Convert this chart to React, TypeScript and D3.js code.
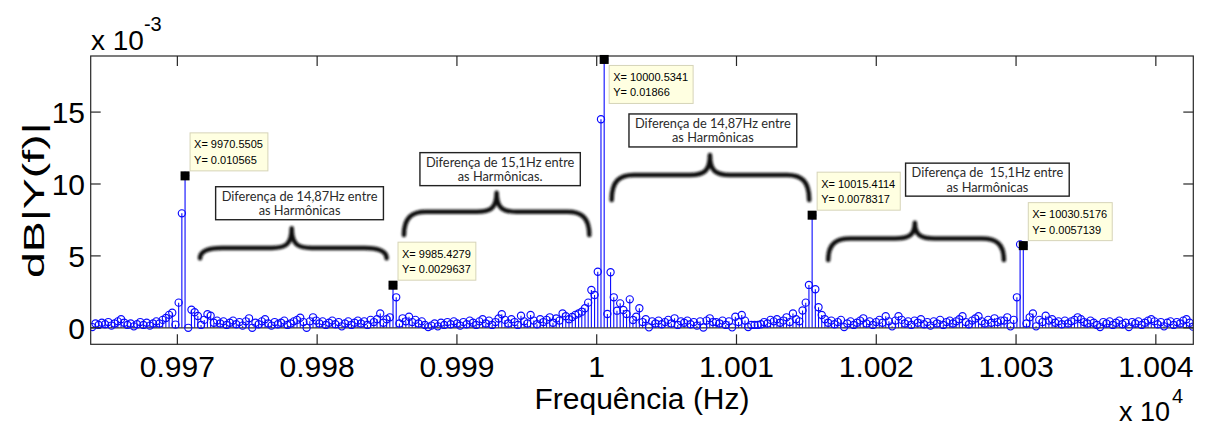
import React, { useEffect, useRef } from "react";
import * as d3 from "d3";

const WIDTH = 1206;
const HEIGHT = 429;

// FFT bin grid (Hz)
const BIN_HZ = 0.228882;
const FIRST_BIN_HZ = 9963.9129;

// |Y(f)| per bin, in units of 1e-3
const magnitudeMilli: number[] = [
  // 9963.9 .. 9970.3 Hz
  0.05, 0.3, 0.2, 0.35, 0.25, 0.4, 0.15, 0.3, 0.45, 0.6, 0.35, 0.2, 0.3, 0.1, 0.25, 0.4, 0.2, 0.35, 0.15, 0.3, 0.45,
  0.3, 0.55, 0.68, 0.9, 1.05, 0.22, 1.75, 7.96,
  // first harmonic
  10.565,
  0, 1.26, 1.08, 0.82, 0.2, 0.55, 0.94, 0.84, 0.35, 0.5,
  0.3, 0.45, 0.2, 0.35, 0.5, 0.25, 0.4, 0.15, 0.45, 0.66,
  0, 0.35, 0.25, 0.45, 0.6, 0.3, 0.15, 0.4, 0.25, 0.35,
  0.5, 0.2, 0.3, 0.45, 0.55, 0.7, 0.4, 0, 0.45, 0.73,
  0.5, 0.3, 0.45, 0.2, 0.35, 0.5, 0.25, 0.4, 0.1, 0.3,
  0.45, 0.2, 0.35, 0.5, 0.3, 0.45, 0.2, 0.55, 0.4, 0.6,
  1.0, 0.35, 0.6, 0.73,
  // second harmonic
  2.9637,
  2.12, 0.3, 0.66, 0.45, 0.77,
  0.4, 0.55, 0.3, 0.45, 0.2, 0.05, 0.15, 0.3, 0.1, 0.35,
  0.2, 0.4, 0.25, 0.45, 0.3, 0.15, 0.4, 0.25, 0.5, 0.35,
  0.2, 0.45, 0.6, 0.3, 0.5, 0.2, 0.4, 0.65, 0.94, 0.55,
  0.3, 0.6, 0.4, 0.2, 0.84, 0.45, 0.3, 0.89, 0.5, 0.25,
  0.6, 0.4, 0.55, 0.73, 0.35, 0.65, 0.5, 1.0, 0.8, 0.6,
  0.75, 0.9, 1.0, 1.12, 1.36, 1.75, 2.63, 2.28, 3.9, 14.5,
  // fundamental
  18.66,
  0.96, 3.86, 2.12, 1.19, 1.7, 1.24, 0.96, 1.98, 0.54,
  0.77, 1.36, 0.4, 0.6, 0.03, 0.45, 0.3, 0.5, 0.25, 0.4,
  0.55, 0.3, 0.66, 0.2, 0.45, 0.35, 0.5, 0.25, 0.4, 0.15,
  0.45, 0.02, 0.5, 0.66, 0.4, 0.4, 0.3, 0.5, 0.2, 0.45,
  0.03, 0.77, 0.4, 0.89, 0.5, 0.05, 0.2, 0.2, 0.2, 0.25,
  0.4, 0.3, 0.55, 0.45, 0.6, 0.35, 0.5, 0.73, 0.4, 1.0,
  0.6, 0.45, 1.2, 1.75, 2.98,
  // fourth harmonic
  7.8317,
  2.68, 1.43, 0.89, 0.6,
  0.35, 0.5, 0.25, 0.4, 0.55, 0.05, 0.3, 0.45, 0.2, 0.35,
  0.5, 0.66, 0.3, 0.45, 0.2, 0.4, 0.55, 0.35, 0.8, 0.45,
  0.1, 0.5, 0.8, 0.55, 0.3, 0.45, 0.2, 0.5, 0.35, 0.6,
  0.25, 0.4, 0.15, 0.45, 0.3, 0.55, 0.2, 0.4, 0.5, 0.3,
  0.45, 0.6, 0.8, 0.4, 0.25, 0.5, 0.65, 0.8, 0.45, 0.3,
  0.55, 0.35, 0.66, 0.4, 0.5, 0.5, 0.73, 0.1, 0.55, 2.12,
  5.8,
  // fifth harmonic
  5.7139,
  0.3, 0.73, 1.0, 0.1, 0.55, 0.4, 0.84, 0.5,
  0.6, 0.35, 0.45, 0.25, 0.5, 0.3, 0.45, 0.55, 0.73, 0.6,
  0.4, 0.3, 0.5, 0.35, 0.2, 0.05, 0.4, 0.3, 0.45, 0.2,
  0.35, 0.5, 0.25, 0.35, 0.05, 0.4, 0.3, 0.45, 0.2, 0.35,
  0.5, 0.6, 0.45, 0.25, 0.4, 0.1, 0.35, 0.45, 0.2, 0.4,
  0.3, 0.5, 0.6, 0.35, 0.08,
];

// Data tips on the harmonic peaks
const tipFreq = [9970.5505, 9985.4279, 10000.5341, 10015.4114, 10030.5176];
const tipMag = [0.010565, 0.0029637, 0.01866, 0.0078317, 0.0057139];
const tipLabelX = ["9970.5505", "9985.4279", "10000.5341", "10015.4114", "10030.5176"];
const tipLabelY = ["0.010565", "0.0029637", "0.01866", "0.0078317", "0.0057139"];

// Axis ticks
const xTicks = [9970, 9980, 9990, 10000, 10010, 10020, 10030, 10040];
const xTickLabels = ["0.997", "0.998", "0.999", "1", "1.001", "1.002", "1.003", "1.004"];
const yTicks = [0, 0.005, 0.01, 0.015];
const yTickLabels = ["0", "5", "10", "15"];

// Spacing notes between harmonics
const noteLine1 = [
  "Diferença de 14,87Hz entre",
  "Diferença de 15,1Hz entre",
  "Diferença de 14,87Hz entre",
  "Diferença de  15,1Hz entre",
];
const noteLine2 = ["as Harmônicas", "as Harmônicas.", "as Harmônicas", "as Harmônicas"];

// Note box anchors (centre Hz, top in 1e-3) and brace geometry (Hz / 1e-3)
const noteAnchor = [
  { cx: 9978.74, top: 9.81 },
  { cx: 9993.09, top: 12.18 },
  { cx: 10008.31, top: 14.87 },
  { cx: 10027.95, top: 11.45 },
];
const braceGeom = [
  { f0: 9971.62, fc: 9978.18, f1: 9984.97, end: 4.83, level: 5.55, cusp: 6.92 },
  { f0: 9986.21, fc: 9992.84, f1: 9999.47, end: 6.45, level: 8.07, cusp: 9.39 },
  { f0: 10001.07, fc: 10008.1, f1: 10015.2, end: 8.89, level: 10.63, cusp: 12.02 },
  { f0: 10016.56, fc: 10022.76, f1: 10029.13, end: 4.71, level: 6.21, cusp: 7.31 },
];

const BLUE = "#0a0aff";
const AXIS = "#262626";

function bracePath(x0: number, xc: number, x1: number, yEnd: number, yLev: number, yCusp: number) {
  const r = Math.min(22, (xc - x0) / 3, (x1 - xc) / 3);
  const h = yEnd - yLev;
  return [
    `M${x0},${yEnd}`,
    `C${x0},${yLev + h * 0.25} ${x0 + r * 0.35},${yLev} ${x0 + r},${yLev}`,
    `L${xc - r * 0.9},${yLev}`,
    `C${xc - r * 0.3},${yLev} ${xc},${yLev - 3} ${xc},${yCusp}`,
    `C${xc},${yLev - 3} ${xc + r * 0.3},${yLev} ${xc + r * 0.9},${yLev}`,
    `L${x1 - r},${yLev}`,
    `C${x1 - r * 0.35},${yLev} ${x1},${yLev + h * 0.25} ${x1},${yEnd}`,
  ].join(" ");
}

function draw(svgEl: SVGSVGElement) {
  const svg = d3.select(svgEl);
  svg.selectAll("*").remove();

  const left = 90.7, right = 1193.3, top = 56, bottom = 344.3;
  const x = d3.scaleLinear().domain([9963.8, 10042.68]).range([left, right]);
  const y = d3.scaleLinear().domain([-0.001147, 0.0189]).range([bottom, top]);
  const ym = (v: number) => y(v / 1000);

  const points = magnitudeMilli.map((m, i) => ({ f: FIRST_BIN_HZ + i * BIN_HZ, v: m / 1000 }));

  const defs = svg.append("defs");
  defs.append("clipPath").attr("id", "plotClip")
    .append("rect").attr("x", left).attr("y", top - 6).attr("width", right - left).attr("height", bottom - top + 6);
  defs.append("filter").attr("id", "soft").attr("x", "-10%").attr("y", "-30%").attr("width", "120%").attr("height", "160%")
    .append("feGaussianBlur").attr("stdDeviation", 0.8);

  svg.append("rect").attr("width", WIDTH).attr("height", HEIGHT).attr("fill", "#fff");

  const plot = svg.append("g").attr("clip-path", "url(#plotClip)");

  // stems
  plot.append("g").selectAll("line").data(points).join("line")
    .attr("x1", (d) => x(d.f)).attr("x2", (d) => x(d.f))
    .attr("y1", y(0)).attr("y2", (d) => y(d.v))
    .attr("stroke", BLUE).attr("stroke-width", 1.1);

  // stem baseline
  plot.append("line").attr("x1", left).attr("x2", right).attr("y1", y(0)).attr("y2", y(0))
    .attr("stroke", "#333").attr("stroke-width", 1.2);

  // stem markers
  plot.append("g").selectAll("circle").data(points).join("circle")
    .attr("cx", (d) => x(d.f)).attr("cy", (d) => y(d.v)).attr("r", 3.6)
    .attr("fill", "none").attr("stroke", BLUE).attr("stroke-width", 1.15);

  // axes box
  svg.append("rect").attr("x", left).attr("y", top).attr("width", right - left).attr("height", bottom - top)
    .attr("fill", "none").attr("stroke", AXIS).attr("stroke-width", 1.2);

  const tickLen = 10;
  const xt = svg.append("g").attr("stroke", AXIS).attr("stroke-width", 1.2);
  xTicks.forEach((t) => {
    xt.append("line").attr("x1", x(t)).attr("x2", x(t)).attr("y1", bottom).attr("y2", bottom - tickLen);
    xt.append("line").attr("x1", x(t)).attr("x2", x(t)).attr("y1", top).attr("y2", top + tickLen);
  });
  yTicks.forEach((t) => {
    xt.append("line").attr("x1", left).attr("x2", left + tickLen).attr("y1", y(t)).attr("y2", y(t));
    xt.append("line").attr("x1", right).attr("x2", right - tickLen).attr("y1", y(t)).attr("y2", y(t));
  });

  const font = "Arial, 'Liberation Sans', Helvetica, sans-serif";
  const labels = svg.append("g").attr("font-family", font).attr("fill", "#000");
  xTicks.forEach((t, i) => {
    labels.append("text").attr("x", x(t)).attr("y", 377).attr("text-anchor", "middle")
      .attr("font-size", 30).text(xTickLabels[i]);
  });
  yTicks.forEach((t, i) => {
    labels.append("text").attr("x", 85).attr("y", y(t)).attr("dy", "0.36em").attr("text-anchor", "end")
      .attr("font-size", 30).text(yTickLabels[i]);
  });

  // exponent labels
  const e3 = labels.append("text").attr("x", 91).attr("y", 50).attr("font-size", 28);
  e3.append("tspan").text("x 10");
  e3.append("tspan").attr("font-size", 20).attr("dy", -19).text("-3");
  const e4 = labels.append("text").attr("x", 1119).attr("y", 421).attr("font-size", 27);
  e4.append("tspan").text("x 10");
  e4.append("tspan").attr("font-size", 20).attr("dx", 2).attr("dy", -18).text("4");

  labels.append("text").attr("x", 642).attr("y", 409).attr("text-anchor", "middle")
    .attr("font-size", 30).text("Frequência (Hz)");
  labels.append("text").attr("transform", `translate(44,${(top + bottom) / 2}) rotate(-90) scale(1.6,1)`)
    .attr("text-anchor", "middle").attr("font-size", 29).text("dB|Y(f)|");

  // data tips
  const tips = svg.append("g");
  tipFreq.forEach((f, i) => {
    const px = x(f), py = y(tipMag[i]);
    tips.append("rect").attr("x", px - 4.5).attr("y", py - 4.5).attr("width", 9).attr("height", 9).attr("fill", "#000");
    const g = tips.append("g").attr("font-family", font).attr("font-size", 11).attr("fill", "#000");
    const t1 = g.append("text").text(`X= ${tipLabelX[i]}`);
    const t2 = g.append("text").text(`Y= ${tipLabelY[i]}`);
    const w = Math.max((t1.node() as SVGTextElement).getComputedTextLength(), (t2.node() as SVGTextElement).getComputedTextLength()) + 9;
    const h = 38;
    const bx = px + 5;
    const by = py - 5 - h < top ? py + 6 : py - 5 - h;
    g.insert("rect", "text").attr("x", bx).attr("y", by).attr("width", w).attr("height", h)
      .attr("fill", "#ffffe1").attr("stroke", "#d6d4b8").attr("stroke-width", 1);
    t1.attr("x", bx + 4).attr("y", by + 15.5);
    t2.attr("x", bx + 4).attr("y", by + 31);
  });

  // braces between harmonics
  const braces = svg.append("g").attr("fill", "none").attr("stroke", "#111").attr("stroke-width", 4.5)
    .attr("stroke-linecap", "round").attr("stroke-linejoin", "round").attr("filter", "url(#soft)");
  braceGeom.forEach((b) => {
    braces.append("path").attr("d", bracePath(x(b.f0), x(b.fc), x(b.f1), ym(b.end), ym(b.level), ym(b.cusp)));
  });

  // note boxes
  const notes = svg.append("g").attr("font-family", "Lato, 'Open Sans', sans-serif").attr("font-size", 12.8).attr("fill", "#2a2a2a");
  noteAnchor.forEach((a, i) => {
    const g = notes.append("g");
    const cx = x(a.cx), ty = ym(a.top);
    const l1 = g.append("text").attr("x", cx).attr("y", ty + 14).attr("text-anchor", "middle")
      .attr("xml:space", "preserve").style("white-space", "pre").text(noteLine1[i]);
    g.append("text").attr("x", cx).attr("y", ty + 28.5).attr("text-anchor", "middle").text(noteLine2[i]);
    const w = (l1.node() as SVGTextElement).getComputedTextLength() + 12;
    g.insert("rect", "text").attr("x", cx - w / 2).attr("y", ty).attr("width", w).attr("height", 33)
      .attr("fill", "#fff").attr("stroke", "#222").attr("stroke-width", 1.4);
  });
}

export default function App() {
  const ref = useRef<SVGSVGElement>(null);
  useEffect(() => {
    if (ref.current) draw(ref.current);
  }, []);
  return (
    <svg
      ref={ref}
      width={WIDTH}
      height={HEIGHT}
      style={{ position: "absolute", left: 0, top: 0, display: "block", background: "#fff" }}
    />
  );
}
